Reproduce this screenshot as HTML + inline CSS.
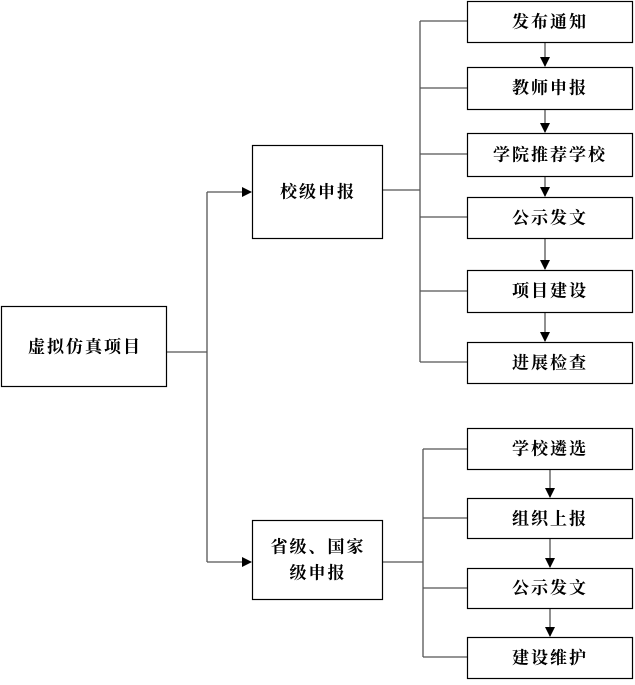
<!DOCTYPE html>
<html><head><meta charset="utf-8"><style>
body{margin:0;background:#fff;width:635px;height:680px;overflow:hidden}
svg text{font-family:"Liberation Serif","Noto Serif CJK SC",serif;font-size:17px;font-weight:bold;text-anchor:middle;dominant-baseline:central;letter-spacing:2px}
</style></head><body>
<svg width="635" height="680" xmlns="http://www.w3.org/2000/svg">
<defs><marker id="a" markerWidth="10" markerHeight="10" refX="9" refY="5" orient="auto" markerUnits="userSpaceOnUse"><path d="M0,0 L10,5 L0,10 z" fill="#000"/></marker></defs>
<g fill="none" stroke="#555" stroke-width="1.3">
<path d="M166,352 H207 M207,192 V562"/>
<path d="M207,192 H251" marker-end="url(#a)"/>
<path d="M207,562 H251" marker-end="url(#a)"/>
<path d="M382,190 H420 M420,21 V362 M420,21 H467 M420,88 H467 M420,154 H467 M420,217 H467 M420,291 H467 M420,362 H467"/>
<path d="M382,562 H423 M423,449 V657 M423,449 H467 M423,518 H467 M423,588 H467 M423,657 H467"/>
<path d="M545,42 V66" marker-end="url(#a)"/>
<path d="M545,109 V132" marker-end="url(#a)"/>
<path d="M545,176 V196" marker-end="url(#a)"/>
<path d="M545,238 V269" marker-end="url(#a)"/>
<path d="M545,312 V341" marker-end="url(#a)"/>
<path d="M550,469 V497" marker-end="url(#a)"/>
<path d="M550,538 V567" marker-end="url(#a)"/>
<path d="M550,608 V636" marker-end="url(#a)"/>
</g>
<g fill="#fff" stroke="#000" stroke-width="1.2">
<rect x="1.5" y="306.5" width="165" height="80"/>
<rect x="252.5" y="145.5" width="130" height="93"/>
<rect x="252.5" y="520.5" width="130" height="79"/>
<rect x="467.5" y="1.5" width="165" height="41"/>
<rect x="467.5" y="67.5" width="165" height="42"/>
<rect x="467.5" y="133.5" width="165" height="43"/>
<rect x="467.5" y="197.5" width="165" height="41"/>
<rect x="467.5" y="270.5" width="165" height="42"/>
<rect x="467.5" y="342.5" width="165" height="41"/>
<rect x="467.5" y="428.5" width="165" height="41"/>
<rect x="467.5" y="498.5" width="165" height="40"/>
<rect x="467.5" y="568.5" width="165" height="40"/>
<rect x="467.5" y="637.5" width="165" height="41"/>
</g>
<text x="85" y="347">虚拟仿真项目</text>
<text x="318" y="192">校级申报</text>
<text x="318" y="547">省级、国家</text>
<text x="318" y="573">级申报</text>
<text x="550" y="22">发布通知</text>
<text x="550" y="88">教师申报</text>
<text x="550" y="155">学院推荐学校</text>
<text x="550" y="218">公示发文</text>
<text x="550" y="291">项目建设</text>
<text x="550" y="363">进展检查</text>
<text x="550" y="449">学校遴选</text>
<text x="550" y="519">组织上报</text>
<text x="550" y="588">公示发文</text>
<text x="550" y="658">建设维护</text>
</svg>
</body></html>
